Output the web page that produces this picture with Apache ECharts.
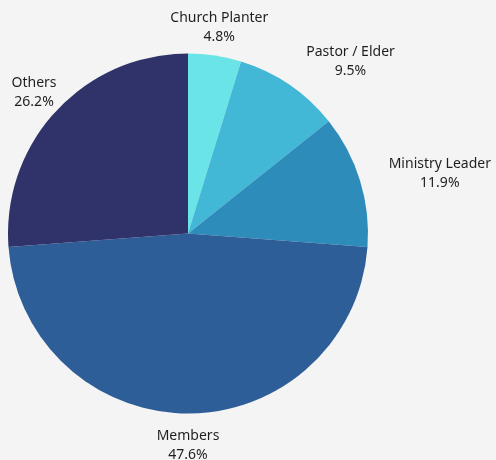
<!DOCTYPE html>
<html>
<head>
<meta charset="utf-8">
<script src="https://cdn.jsdelivr.net/npm/echarts@6/dist/echarts.min.js"></script>
<style>
html,body{margin:0;padding:0;background:#f4f4f4;}
#chart{width:496px;height:460px;}
</style>
</head>
<body>
<div id="chart"></div>
<script>
const categories = ['Church Planter', 'Pastor / Elder', 'Ministry Leader', 'Members', 'Others'];
const counts = [2, 4, 5, 20, 11];
const colors = ['#6ae4e7', '#42b7d6', '#2e8cbb', '#2e5e98', '#2f3369'];

const chart = echarts.init(document.getElementById('chart'));
// where the radial anchor point sits across each label's width (0 = left edge, 0.5 = centre)
const anchorFrac = [0.5, 0, 0, 0.5, 0.5];
chart.setOption({
  backgroundColor: '#f4f4f4',
  animation: false,
  series: [{
    type: 'pie',
    center: [188, 233.5],
    radius: 180,
    startAngle: 90,
    clockwise: true,
    avoidLabelOverlap: false,
    percentPrecision: 1,
    data: categories.map((c, i) => ({ name: c, value: counts[i], itemStyle: { color: colors[i] } })),
    label: {
      show: true,
      position: 'outside',
      alignTo: 'none',
      overflow: 'none',
      formatter: '{b}\n{d}%',
      fontFamily: 'Noto Sans',
      fontSize: 14,
      lineHeight: 19,
      color: '#1f1f1f'
    },
    labelLine: { show: false, length: 30, length2: 0 },
    labelLayout: function (p) {
      const f = anchorFrac[p.dataIndex];
      const w = p.labelRect.width;
      const sgn = p.align === 'left' ? 1 : (p.align === 'right' ? -1 : 0);
      return { align: 'center', dx: (0.5 - f) * w - sgn * 5, dy: 2 };
    }
  }]
});
</script>
</body>
</html>
